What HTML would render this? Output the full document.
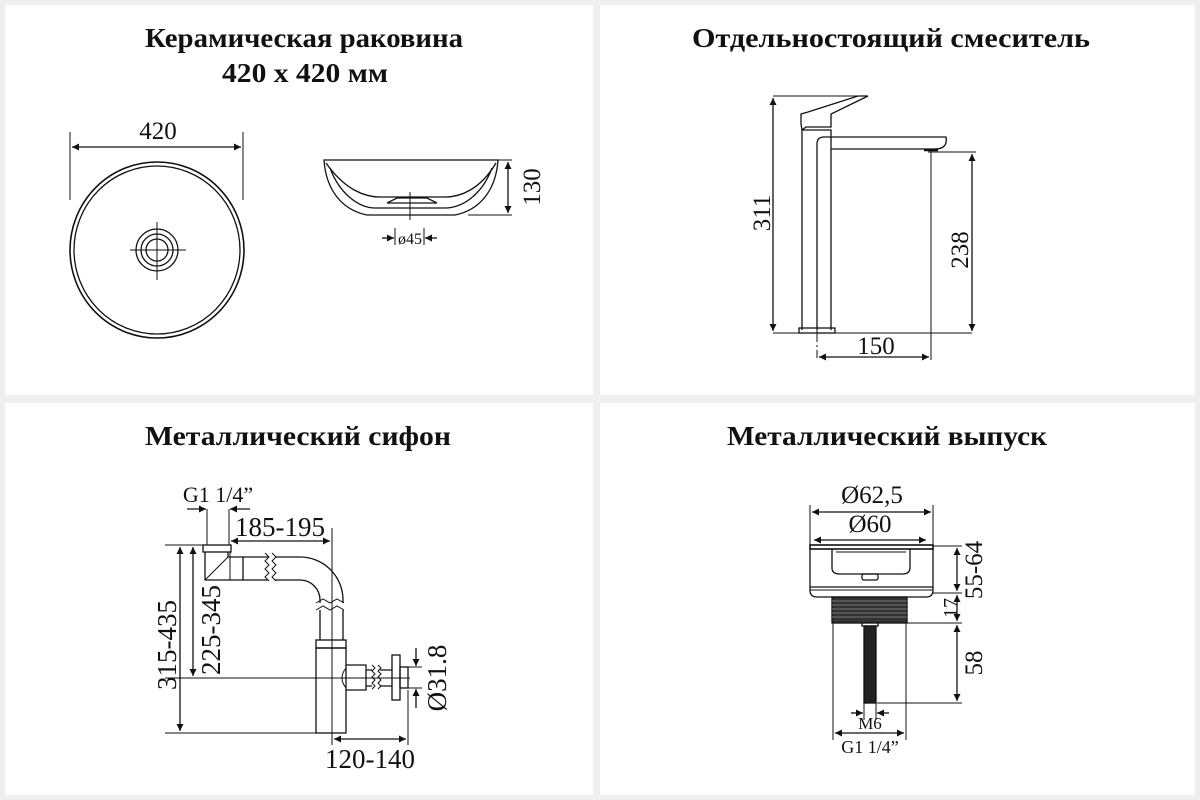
<!DOCTYPE html>
<html><head><meta charset="utf-8"><style>
html,body{margin:0;padding:0;background:#efefef;}
svg{display:block}
text{font-family:"Liberation Serif",serif;fill:#111}
.t{font-weight:bold;font-size:27px}
.d{font-size:25px}
</style></head><body>
<svg width="1200" height="800" viewBox="0 0 1200 800" xmlns="http://www.w3.org/2000/svg">
<defs>
<marker id="a" viewBox="0 0 10 10" refX="10" refY="5" markerWidth="9" markerHeight="7" orient="auto-start-reverse" markerUnits="userSpaceOnUse"><path d="M0,0L10,5L0,10z" fill="#111"/></marker>
</defs>
<rect x="0" y="0" width="1200" height="800" fill="#efefef"/>
<rect x="5" y="5" width="588" height="390" fill="#fff"/>
<rect x="600" y="5" width="595" height="390" fill="#fff"/>
<rect x="5" y="403" width="588" height="392" fill="#fff"/>
<rect x="600" y="403" width="595" height="392" fill="#fff"/>

<g stroke="#111" fill="none" stroke-width="1.3">
<line x1="70" y1="132" x2="70" y2="200" stroke-width="1"/>
<line x1="243" y1="132" x2="243" y2="200" stroke-width="1"/>
<line x1="72" y1="147" x2="241" y2="147" marker-start="url(#a)" marker-end="url(#a)"/>
<ellipse cx="157" cy="250" rx="87" ry="88" stroke-width="1.6"/>
<ellipse cx="157" cy="250" rx="83" ry="84"/>
<circle cx="157" cy="250" r="21"/><circle cx="157" cy="250" r="16"/><circle cx="157" cy="250" r="11"/>
<line x1="130" y1="250" x2="186" y2="250" stroke-width="1"/>
<line x1="157" y1="222" x2="157" y2="280" stroke-width="1"/>
<path d="M324,160 L498,160 C496,190 480,210 455,215 L367,215 C342,210 326,190 324,160 Z"/>
<path d="M326,163 C345,190 365,197 380,197 L445,197 C460,197 480,190 496,163"/>
<path d="M330,168 C340,195 360,208 375,208 L445,208 C462,208 482,195 492,168"/>
<path d="M387,203 L397,198 L427,198 L437,203 Z" />
<line x1="410" y1="192" x2="410" y2="220" stroke-width="1"/>
<line x1="470" y1="160" x2="512" y2="160" stroke-width="1"/>
<line x1="468" y1="215" x2="512" y2="215" stroke-width="1"/>
<line x1="508" y1="162" x2="508" y2="213" marker-start="url(#a)" marker-end="url(#a)"/>
<line x1="395" y1="228" x2="395" y2="245" stroke-width="1"/>
<line x1="424" y1="228" x2="424" y2="245" stroke-width="1"/>
<line x1="382" y1="238" x2="394" y2="238" marker-end="url(#a)"/>
<line x1="437" y1="238" x2="425" y2="238" marker-end="url(#a)"/>

<line x1="773" y1="96" x2="868" y2="96" stroke-width="1"/>
<line x1="773" y1="333" x2="972" y2="333" stroke-width="1"/>
<line x1="773" y1="98" x2="773" y2="331" marker-start="url(#a)" marker-end="url(#a)"/>
<path d="M802,330 L802,130 L831,130 L831,330"/>
<rect x="799" y="328" width="36" height="5"/>
<path d="M802,130 L806,127 L831,127 L831,114 L868,96 L858,96 L808,112 L801,114 L801,124 Z"/>
<path d="M817,330 L817,144 Q817,137 824,137 L946,137 Q948,149 935,149 L831,149" />
<line x1="817" y1="150" x2="817" y2="358" stroke-width="1" stroke-dasharray="12 3 2 3"/>
<path d="M924,150 L938,150" stroke-width="2.5"/>
<line x1="931" y1="150" x2="931" y2="360" stroke-width="1"/>
<line x1="928" y1="152" x2="976" y2="152" stroke-width="1"/>
<line x1="972" y1="154" x2="972" y2="331" marker-start="url(#a)" marker-end="url(#a)"/>
<line x1="819" y1="357" x2="929" y2="357" marker-start="url(#a)" marker-end="url(#a)"/>

<line x1="207" y1="509" x2="207" y2="545" stroke-width="1"/>
<line x1="229" y1="509" x2="229" y2="545" stroke-width="1"/>
<line x1="187" y1="509" x2="206" y2="509" marker-end="url(#a)"/>
<line x1="250" y1="509" x2="230" y2="509" marker-end="url(#a)"/>
<line x1="231" y1="541" x2="330" y2="541" marker-start="url(#a)" marker-end="url(#a)"/>
<line x1="332" y1="528" x2="332" y2="745" stroke-width="1"/>
<rect x="203" y="545" width="28" height="7"/>
<path d="M205,552 L205,580 L243,580 L243,557 L228,557 L228,552"/>
<line x1="205" y1="580" x2="228" y2="557" stroke-width="1"/>
<line x1="230" y1="552" x2="230" y2="580" stroke-width="1"/>
<path d="M243,557 L268,557 M243,580 L268,580 M275,557 L300,557 A43,43 0 0 1 343,600 L343,603 M275,580 L300,580 A20,20 0 0 1 320,600 L320,603"/>
<path d="M265,553 l4,4 l-4,4 l4,4 l-4,4 l4,4 l-4,4 l4,4 M272,553 l4,4 l-4,4 l4,4 l-4,4 l4,4 l-4,4 l4,4" stroke-width="1"/>
<path d="M316,603 l7,-4 l7,4 l7,-4 l7,4 M316,610 l7,-4 l7,4 l7,-4 l7,4" stroke-width="1"/>
<path d="M320,610 L320,640 M343,610 L343,640"/>
<rect x="316" y="640" width="30" height="8"/>
<rect x="316" y="648" width="30" height="85"/>
<path d="M346,665 L366,665 L366,690 L346,690"/>
<path d="M346,668 Q338,678 346,688" stroke-width="1"/>
<path d="M366,670 L372,670 M366,686 L372,686 M380,670 L392,670 M380,686 L392,686"/>
<path d="M372,665 l3,3 l-3,3 l3,3 l-3,3 l3,3 l-3,3 l3,3 l-3,3 M378,665 l3,3 l-3,3 l3,3 l-3,3 l3,3 l-3,3 l3,3 l-3,3" stroke-width="1"/>
<rect x="392" y="655" width="8" height="45"/>
<rect x="400" y="667" width="8" height="21"/>
<line x1="165" y1="678" x2="410" y2="678" stroke-width="1"/>
<line x1="165" y1="545" x2="203" y2="545" stroke-width="1"/>
<line x1="165" y1="733" x2="316" y2="733" stroke-width="1"/>
<line x1="180" y1="547" x2="180" y2="731" marker-start="url(#a)" marker-end="url(#a)"/>
<line x1="193" y1="547" x2="193" y2="676" marker-start="url(#a)" marker-end="url(#a)"/>
<line x1="408" y1="667" x2="422" y2="667" stroke-width="1"/>
<line x1="408" y1="688" x2="422" y2="688" stroke-width="1"/>
<line x1="416" y1="648" x2="416" y2="666" marker-end="url(#a)"/>
<line x1="416" y1="708" x2="416" y2="689" marker-end="url(#a)"/>
<line x1="408" y1="690" x2="408" y2="745" stroke-width="1"/>
<line x1="334" y1="739" x2="406" y2="739" marker-start="url(#a)" marker-end="url(#a)"/>

<line x1="810" y1="505" x2="810" y2="546" stroke-width="1"/>
<line x1="933" y1="505" x2="933" y2="546" stroke-width="1"/>
<line x1="812" y1="512" x2="931" y2="512" marker-start="url(#a)" marker-end="url(#a)"/>
<line x1="814" y1="540" x2="926" y2="540" marker-start="url(#a)" marker-end="url(#a)"/>
<rect x="810" y="545" width="123" height="4" stroke-width="1.6"/>
<path d="M832,549 L832,568 Q832,574 840,574 L902,574 Q910,574 910,568 L910,549"/>
<path d="M836,552 L906,552" stroke-width="1"/>
<rect x="862" y="574" width="16" height="6" rx="2"/>
<path d="M810,549 L810,590 Q810,597 817,597 L926,597 Q933,597 933,590 L933,549"/>
<line x1="810" y1="587" x2="933" y2="587"/>
<line x1="810" y1="590" x2="933" y2="590" stroke-width="1"/>
<rect x="832" y="597" width="75" height="26" fill="#333"/>
<path d="M832,601 H907 M832,605 H907 M832,609 H907 M832,613 H907 M832,617 H907" stroke="#777" stroke-width="1"/>
<rect x="862" y="623" width="16" height="3" fill="#fff"/>
<rect x="864" y="626" width="12" height="77" fill="#222"/>
<line x1="833" y1="623" x2="833" y2="740" stroke-width="1"/>
<line x1="906" y1="623" x2="906" y2="740" stroke-width="1"/>
<line x1="864" y1="703" x2="864" y2="720" stroke-width="1"/>
<line x1="876" y1="703" x2="876" y2="720" stroke-width="1"/>
<line x1="851" y1="713" x2="863" y2="713" marker-end="url(#a)"/>
<line x1="889" y1="713" x2="877" y2="713" marker-end="url(#a)"/>
<line x1="835" y1="733" x2="904" y2="733" marker-start="url(#a)" marker-end="url(#a)"/>
<line x1="933" y1="546" x2="962" y2="546" stroke-width="1"/>
<line x1="933" y1="593" x2="962" y2="593" stroke-width="1"/>
<line x1="907" y1="623" x2="962" y2="623" stroke-width="1"/>
<line x1="877" y1="703" x2="962" y2="703" stroke-width="1"/>
<line x1="957" y1="548" x2="957" y2="591" marker-start="url(#a)" marker-end="url(#a)"/>
<line x1="957" y1="595" x2="957" y2="621" marker-start="url(#a)" marker-end="url(#a)"/>
<line x1="957" y1="625" x2="957" y2="701" marker-start="url(#a)" marker-end="url(#a)"/>
</g>

<text class="t" x="145" y="47" textLength="318" lengthAdjust="spacingAndGlyphs">Керамическая раковина</text>
<text class="t" x="222" y="82" textLength="166" lengthAdjust="spacingAndGlyphs">420 x 420 мм</text>
<text class="t" x="692" y="47" textLength="398" lengthAdjust="spacingAndGlyphs">Отдельностоящий смеситель</text>
<text class="t" x="145" y="445" textLength="306" lengthAdjust="spacingAndGlyphs">Металлический сифон</text>
<text class="t" x="727" y="445" textLength="320" lengthAdjust="spacingAndGlyphs">Металлический выпуск</text>

<text class="d" x="158" y="139" text-anchor="middle">420</text>
<text class="d" transform="translate(540,187) rotate(-90)" text-anchor="middle">130</text>
<text x="410" y="244" text-anchor="middle" style="font-size:16px">ø45</text>
<text class="d" transform="translate(770,213) rotate(-90)" text-anchor="middle">311</text>
<text class="d" transform="translate(968,250) rotate(-90)" text-anchor="middle">238</text>
<text class="d" x="876" y="354" text-anchor="middle">150</text>
<text class="d" x="218" y="502" text-anchor="middle" style="font-size:22px">G1 1/4”</text>
<text class="d" x="280" y="536" text-anchor="middle" style="font-size:27px">185-195</text>
<text class="d" transform="translate(176,645) rotate(-90)" text-anchor="middle" style="font-size:27px">315-435</text>
<text class="d" transform="translate(220,630) rotate(-90)" text-anchor="middle" style="font-size:27px">225-345</text>
<text class="d" transform="translate(446,678) rotate(-90)" text-anchor="middle" style="font-size:27px">Ø31.8</text>
<text class="d" x="370" y="768" text-anchor="middle" style="font-size:27px">120-140</text>
<text class="d" x="872" y="503" text-anchor="middle">Ø62,5</text>
<text class="d" x="870" y="532" text-anchor="middle">Ø60</text>
<text class="d" transform="translate(982,570) rotate(-90)" text-anchor="middle">55-64</text>
<text class="d" transform="translate(957,608) rotate(-90)" text-anchor="middle" style="font-size:20px">17</text>
<text class="d" transform="translate(982,663) rotate(-90)" text-anchor="middle">58</text>
<text x="870" y="729" text-anchor="middle" style="font-size:17px">M6</text>
<text x="870" y="753" text-anchor="middle" style="font-size:18px">G1 1/4”</text>
</svg>
</body></html>
